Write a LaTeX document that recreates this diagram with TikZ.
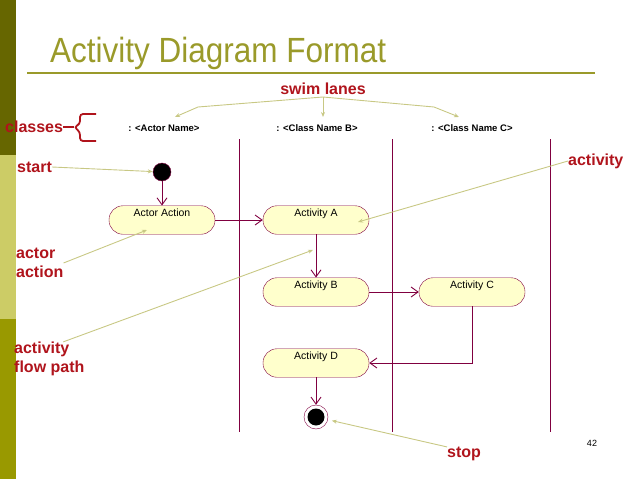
\documentclass[tikz,border=0pt]{standalone}
\usepackage{fontspec}
\setmainfont{Liberation Sans}
\newfontfamily\slidetitlefont[FakeStretch=0.9]{Liberation Sans}
\usetikzlibrary{arrows.meta, positioning}
\definecolor{slideDark}{HTML}{666600}
\definecolor{slideLight}{HTML}{CCCC66}
\definecolor{slideOlive}{HTML}{999900}
\definecolor{slideTitle}{HTML}{9A9A2A}
\definecolor{umlLine}{HTML}{800040}
\definecolor{umlFill}{HTML}{FFFFCC}
\definecolor{noteRed}{HTML}{B0141C}
\definecolor{noteLine}{HTML}{C8C884}

\begin{document}
\begin{tikzpicture}[
  x=1pt, y=-1pt,
  act/.style={draw=umlLine, fill=umlFill, rounded corners=14pt, minimum width=106pt,
              text height=7.5pt, text depth=14pt, inner ysep=3.5pt, inner xsep=2pt,
              font=\fontsize{10.5}{12}\selectfont},
  hdr/.style={font=\fontsize{9.5}{11}\selectfont\bfseries, inner sep=1pt},
  note/.style={text=noteRed, font=\fontsize{16}{19}\selectfont\bfseries, align=left, inner sep=0pt},
  flow/.style={-{Straight Barb[length=7pt,width=10pt]}, draw=umlLine, line width=0.9pt},
  call/.style={-{Stealth[length=5pt,width=4pt]}, draw=noteLine, line width=0.9pt},
  lane/.style={draw=umlLine, line width=1pt}
]
\useasboundingbox (0,0) rectangle (638,479);

% slide frame
\fill[slideDark]  (0,0)   rectangle (16,155);
\fill[slideLight] (0,155) rectangle (16,319);
\fill[slideOlive] (0,319) rectangle (16,479);
\node[anchor=base west, text=slideTitle, font=\slidetitlefont\fontsize{35}{38}\selectfont, inner sep=0pt]
  (title) at (50,62) {Activity Diagram Format};
\draw[slideTitle, line width=1.4pt] (27,73) -- (595,73);

% class headers and swim lanes
\node[hdr] (hdrA) at (164,128) {: <Actor Name>};
\node[hdr] (hdrB) at (317,128) {: <Class Name B>};
\node[hdr] (hdrC) at (472,128) {: <Class Name C>};
\foreach \x in {239,392,550}
  \draw[lane] (\x,139) -- (\x,432);

% activities
\node[draw=umlLine, fill=black, circle, minimum size=18pt, inner sep=0pt] (start) at (162,172) {};
\node[act] (actor) at (162,220) {Actor Action};
\node[act] (actA)  at (316,220) {Activity A};
\node[act] (actB)  at (316,292) {Activity B};
\node[act] (actC)  at (472,292) {Activity C};
\node[act] (actD)  at (316,363) {Activity D};
\node[draw=umlLine, fill=white, circle, minimum size=24pt, inner sep=0pt] (stop) at (316,417) {};
\node[fill=black, circle, minimum size=17pt, inner sep=0pt] (stopdot) at (stop) {};

\draw[flow] (start) -- (actor);
\draw[flow] (actor) -- (actA);
\draw[flow] (actA) -- (actB);
\draw[flow] (actB) -- (actC);
\draw[flow] (actC.south) |- (actD.east);
\draw[flow] (actD) -- (stop);

% notes
\node[note] (swim) at (323,89) {swim lanes};
\node[note, anchor=west] (lblclasses) at (5,127) {classes};
\node[note, anchor=west] (lblstart) at (17,167) {start};
\node[note, anchor=west] (lblactor) at (16,263) {actor\\action};
\node[note, anchor=west] (lblflow) at (14,359) {activity\\flow path};
\node[note, anchor=west] (lblactivity) at (568,161) {activity};
\node[note, anchor=west] (lblstop) at (447,454) {stop};
\node[font=\fontsize{9}{10}\selectfont] (page) at (592,443) {42};

\coordinate (fork) at (323,97);
\coordinate (bendA) at (198,107);
\coordinate (bendC) at (434,107);
\coordinate (tipA) at (175,117);
\coordinate (tipB) at (323,117);
\coordinate (tipC) at (459,117);
\draw[call] (fork) -- (bendA) -- (tipA);
\draw[call] (fork) -- (tipB);
\draw[call] (fork) -- (bendC) -- (tipC);

\draw[noteRed, line width=1.8pt] (lblclasses.east) -- ++(11,0) coordinate (bracetip);
\draw[noteRed, line width=1.8pt, rounded corners=3pt]
  (96,114) -| (80,124) -- (bracetip) -- (80,132) |- (96,141);

\coordinate (actorTip) at (147,230);
\coordinate (flowTip) at (313,250);
\coordinate (flowFrom) at ([xshift=14pt]lblflow.north);
\coordinate (actATip) at (358,222);
\draw[call] (lblstart.east) -- (start);
\draw[call] (lblactor.east) -- (actorTip);
\draw[call] (flowFrom) -- (flowTip);
\draw[call] (lblactivity.west) -- (actATip);
\draw[call, shorten >=4pt] (lblstop.north west) -- (stop);

\end{tikzpicture}
\end{document}
